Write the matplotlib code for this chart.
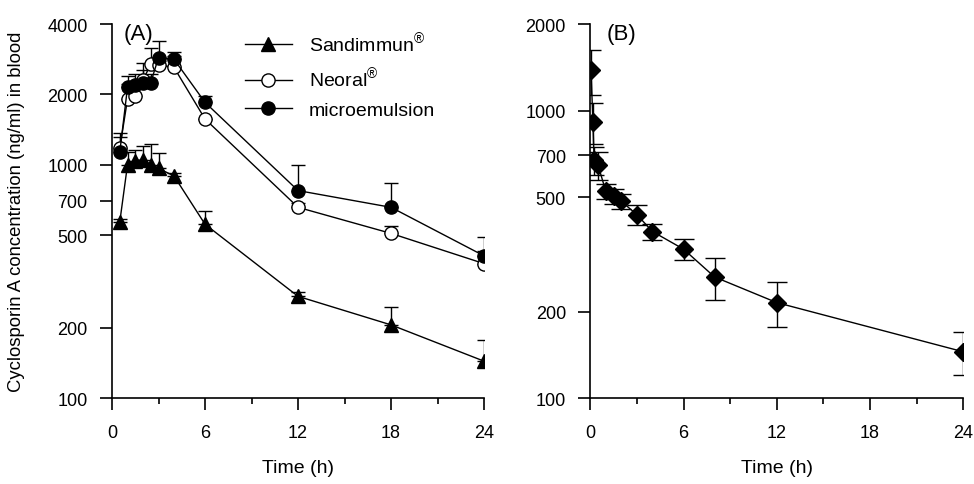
import numpy as np
import matplotlib
matplotlib.use("Agg")
import matplotlib.pyplot as plt
from matplotlib.ticker import FixedLocator, NullLocator

plt.rcParams['font.family'] = ['Liberation Sans', 'DejaVu Sans']
plt.rcParams['mathtext.fontset'] = 'custom'
plt.rcParams['mathtext.rm'] = 'Liberation Sans'

# panel A: oral formulations (mean + upper SD)
t_a = [0.5, 1, 1.5, 2, 2.5, 3, 4, 6, 12, 18, 24]
sand = [568, 1000, 1040, 1050, 1000, 965, 895, 556, 273, 206, 144]
sand_err = [15, 130, 120, 150, 230, 155, 25, 75, 12, 39, 33]
neoral = [1175, 1910, 1970, 2310, 2690, 2680, 2610, 1570, 657, 508, 377]
neoral_err = [195, 300, 200, 420, 470, 100, 300, 0, 30, 40, 50]
micro = [1130, 2150, 2200, 2240, 2250, 2880, 2830, 1850, 775, 657, 407]
micro_err = [180, 250, 250, 300, 200, 500, 220, 120, 220, 180, 85]

# panel B: i.v. (mean +/- SD)
t_b = [0.05, 0.17, 0.25, 0.5, 1, 1.5, 2, 3, 4, 6, 8, 12, 24]
iv = [1384, 917, 675, 647, 525, 505, 484, 435, 380, 330, 264, 215, 145]
iv_err = [246, 148, 75, 73, 30, 30, 28, 36, 24, 27, 44, 38, 25]

x_ticks = [0, 6, 12, 18, 24]
x_minor = [3, 9, 15, 21]
y_ticks_a = [100, 200, 500, 700, 1000, 2000, 4000]
y_ticks_b = [100, 200, 500, 700, 1000, 2000]


def style_axis(ax, yticks, ymax):
    ax.set_yscale('log')
    ax.set_xlim(0, 24)
    ax.set_ylim(100, ymax)
    ax.spines['top'].set_visible(False)
    ax.spines['right'].set_visible(False)
    for s in ['left', 'bottom']:
        ax.spines[s].set_linewidth(1.2)
    ax.xaxis.set_major_locator(FixedLocator(x_ticks))
    ax.xaxis.set_minor_locator(FixedLocator(x_minor))
    ax.yaxis.set_major_locator(FixedLocator(yticks))
    ax.yaxis.set_minor_locator(NullLocator())
    ax.set_yticklabels([str(v) for v in yticks])
    ax.tick_params(axis='x', which='major', length=8.5, width=1.2, labelsize=13, pad=10)
    ax.tick_params(axis='x', which='minor', length=4, width=1.2)
    ax.tick_params(axis='y', which='major', length=8.5, width=1.2, labelsize=13, pad=9)
    ax.set_xlabel('Time (h)', fontsize=14, labelpad=13)


fig = plt.figure(figsize=(9.74, 4.85), dpi=100)
ax1 = fig.add_axes([0.115, 0.177, 0.382, 0.771])
ax2 = fig.add_axes([0.606, 0.177, 0.383, 0.771])

lw = 1.0
z = np.zeros(len(t_a))
ax1.errorbar(t_a, sand, yerr=[z, sand_err], color='black', lw=lw, marker='^', ms=9.5,
             mfc='black', mec='black', capsize=5, elinewidth=1, capthick=1,
             label=r'Sandimmun$^{\circledR}$')
ax1.errorbar(t_a, neoral, yerr=[z, neoral_err], color='black', lw=lw, marker='o', ms=9.5,
             mfc='white', mec='black', capsize=5, elinewidth=1, capthick=1,
             label=r'Neoral$^{\circledR}$')
ax1.errorbar(t_a, micro, yerr=[z, micro_err], color='black', lw=lw, marker='o', ms=9.5,
             mfc='black', mec='black', capsize=5, elinewidth=1, capthick=1,
             label='microemulsion')
style_axis(ax1, y_ticks_a, 4000)
ax1.set_ylabel('Cyclosporin A concentration (ng/ml) in blood', fontsize=13.3)
ax1.yaxis.set_label_coords(-0.235, 0.5)
ax1.text(0.03, 0.975, '(A)', transform=ax1.transAxes, fontsize=16, va='center', ha='left')

handles, labels = ax1.get_legend_handles_labels()
handles = [h[0] for h in handles]
ax1.legend(handles, labels, loc='upper left', bbox_to_anchor=(0.31, 1.03), frameon=False,
           fontsize=14, handlelength=2.4, handletextpad=0.9, labelspacing=0.55)

ax2.errorbar(t_b, iv, yerr=iv_err, color='black', lw=lw, marker='D', ms=9,
             mfc='black', mec='black', capsize=7, elinewidth=1, capthick=1)
style_axis(ax2, y_ticks_b, 2000)
ax2.text(0.045, 0.975, '(B)', transform=ax2.transAxes, fontsize=16, va='center', ha='left')

fig.savefig('out.png', dpi=100)
